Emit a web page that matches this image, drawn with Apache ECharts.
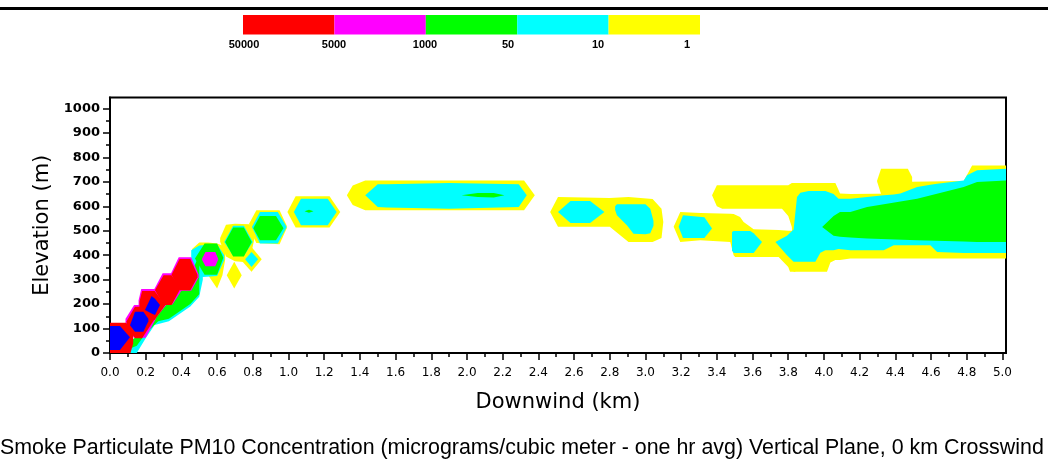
<!DOCTYPE html>
<html>
<head>
<meta charset="utf-8">
<script src="https://cdn.jsdelivr.net/npm/echarts@6/dist/echarts.min.js"></script>
<style>
html,body{margin:0;padding:0;background:#fff;}
#chart{width:1048px;height:459px;}
</style>
</head>
<body>
<div id="chart"></div>
<script>
// ---- Legend (concentration classes, micrograms/m3) ----
const legendLabels = ['50000', '5000', '1000', '50', '10', '1'];
const legendColors = ['#ff0000', '#ff00ff', '#00ff00', '#00ffff', '#ffff00'];

// ---- Axis ticks ----
const xTickLabels = ['0.0','0.2','0.4','0.6','0.8','1.0','1.2','1.4','1.6','1.8','2.0','2.2','2.4','2.6','2.8','3.0','3.2','3.4','3.6','3.8','4.0','4.2','4.4','4.6','4.8','5.0'];
const xMinorTicks = [0.1,0.3,0.5,0.7,0.9,1.1,1.3,1.5,1.7,1.9,2.1,2.3,2.5,2.7,2.9,3.1,3.3,3.5,3.7,3.9,4.1,4.3,4.5,4.7,4.9];
const yTickLabels = ['0','100','200','300','400','500','600','700','800','900','1000'];
const yMinorTicks = [50,150,250,350,450,550,650,750,850,950];

// ---- Contour regions: each is a list of [downwind km, lower elevation m, upper elevation m] ----
const yellowRegions = [
  [[0.46,415,425],[0.50,330,452],[0.55,318,452],[0.60,264,448],[0.63,318,440],[0.645,380,420]],
  [[0.654,318,318],[0.696,264,373],[0.738,318,318]],
  [[0.617,455,470],[0.65,395,525],[0.70,375,529],[0.78,370,527],[0.81,470,490]],
  [[0.73,383,383],[0.793,332,434],[0.85,383,383]],
  [[0.78,510,530],[0.82,450,584],[0.95,445,584],[0.99,510,520]],
  [[0.994,577,577],[1.04,513,641],[1.23,513,641],[1.29,577,577]],
  [[1.327,645,645],[1.36,605,685],[1.43,584,706],[2.32,584,706],[2.38,645,645]],
  [[2.466,577,577],[2.51,516,638],[2.80,516,634],[2.905,454,638],[3.04,454,630],[3.09,470,590],[3.10,536,536]],
  [[3.158,516,516],[3.195,454,577],[3.307,461,573],[3.475,454,570],[3.494,400,569],[3.503,393,565],[3.53,393,556],[3.55,393,536],[3.587,393,516],[3.606,393,506],[3.746,393,503],[3.80,352,500],[3.81,332,500],[3.84,332,500]],
  [[3.373,645,645],[3.40,600,686],[3.43,590,686],[3.765,590,686],[3.80,560,686],[3.82,515,695],[3.83,332,695],[4.017,332,695],[4.036,370,695],[4.064,380,695],[4.08,380,670],[4.09,380,652],[4.148,386,650],[4.42,386,652],[4.49,386,700],[4.783,386,703],[4.83,386,767],[5.03,386,767]],
  [[4.298,700,706],[4.32,650,754],[4.47,650,754],[4.494,700,720]]
];
const cyanRegions = [
  [[0.11,0,20],[0.15,0,60],[0.2,60,130],[0.25,115,170],[0.33,130,230],[0.45,190,320],[0.5,230,400],[0.52,300,420]],
  [[0.455,306,420],[0.5,310,440],[0.6,315,445],[0.64,380,400]],
  [[0.64,454,454],[0.69,398,520],[0.75,398,520],[0.80,454,454]],
  [[0.757,383,383],[0.793,352,413],[0.83,383,383]],
  [[0.795,515,515],[0.84,448,577],[0.94,448,577],[0.99,515,515]],
  [[1.03,577,577],[1.07,522,631],[1.22,522,631],[1.27,577,577]],
  [[1.43,645,645],[1.5,597,690],[1.55,595,690],[1.9,590,695],[2.29,597,690],[2.335,645,645]],
  [[2.51,577,577],[2.58,532,622],[2.69,532,622],[2.77,577,577]],
  [[2.83,585,600],[2.84,563,608],[2.896,522,608],[2.933,488,608],[3.0,486,608],[3.027,490,590],[3.045,520,540]],
  [[3.186,516,516],[3.21,470,563],[3.33,470,555],[3.373,509,509]],
  [[3.485,420,495],[3.494,409,499],[3.587,409,499],[3.606,409,490],[3.653,454,454]],
  [[3.728,454,454],[3.793,400,480],[3.83,373,505],[3.849,373,638],[3.868,373,655],[3.914,373,663],[3.952,373,663],[3.98,410,663],[4.008,420,663],[4.054,420,650],[4.082,425,631],[4.148,420,631],[4.335,420,645],[4.391,441,648],[4.428,441,652],[4.522,441,679],[4.596,441,688],[4.634,413,692],[4.783,409,706],[4.802,409,727],[4.858,409,747],[5.03,409,754]]
];
const greenRegions = [
  [[0.12,20,50],[0.15,30,70],[0.2,80,130],[0.27,130,180],[0.33,140,230],[0.45,200,320],[0.5,240,400]],
  [[0.476,386,386],[0.53,320,448],[0.6,320,448],[0.635,390,390]],
  [[0.645,454,454],[0.69,395,513],[0.75,395,513],[0.794,454,454]],
  [[0.803,510,510],[0.84,461,560],[0.93,461,560],[0.972,510,510]],
  [[1.09,580,580],[1.115,574,586],[1.14,580,580]],
  [[1.97,645,645],[2.06,638,654],[2.15,636,654],[2.21,645,645]],
  [[3.99,515,515],[4.054,480,560],[4.09,475,577],[4.148,472,577],[4.242,468,597],[4.522,461,631],[4.783,456,679],[4.858,454,699],[5.03,454,706]]
];
const magentaRegions = [
  [[0.087,105,140],[0.135,62,196],[0.2,62,196],[0.258,141,141]],
  [[0.16,190,215],[0.175,150,262],[0.25,137,262],[0.315,196,196]],
  [[0.245,257,257],[0.295,198,326],[0.35,198,326],[0.40,255,275]],
  [[0.338,320,320],[0.385,255,392],[0.455,255,392],[0.497,310,320]],
  [[0.514,383,383],[0.535,355,413],[0.59,355,413],[0.607,383,383]]
];
const redRegions = [
  [[0,0,124],[0.09,0,124],[0.115,0,100],[0.13,40,80]],
  [[0.093,110,130],[0.14,60,189],[0.18,60,189],[0.252,141,141]],
  [[0.165,190,210],[0.18,150,254],[0.25,135,254],[0.31,196,196]],
  [[0.252,257,257],[0.30,196,318],[0.345,196,318],[0.392,260,270]],
  [[0.345,320,320],[0.39,257,384],[0.45,257,384],[0.49,310,320]]
];
const blueRegions = [
  [[0,12,110],[0.056,12,110],[0.112,64,64]],
  [[0.112,114,114],[0.14,87,169],[0.187,87,169],[0.215,130,140]],
  [[0.196,176,176],[0.233,162,233],[0.252,155,222],[0.28,196,196]]
];

const levels = [
  {name: '1', color: '#ffff00', regions: yellowRegions},
  {name: '10', color: '#00ffff', regions: cyanRegions},
  {name: '50', color: '#00ff00', regions: greenRegions},
  {name: '1000', color: '#ff00ff', regions: magentaRegions},
  {name: '5000', color: '#ff0000', regions: redRegions},
  {name: '50000', color: '#0000ff', regions: blueRegions}
];

const chart = echarts.init(document.getElementById('chart'), null, {renderer: 'canvas'});

function makeSeries(level) {
  return {
    type: 'custom',
    name: level.name,
    silent: true,
    animation: false,
    xAxisIndex: 0,
    yAxisIndex: 0,
    data: level.regions.map((r, i) => [r[0][0], r[0][1], i]),
    encode: {x: 0, y: 1},
    renderItem: function (params, api) {
      const region = level.regions[api.value(2)];
      const upper = region.map(p => api.coord([p[0], p[2]]));
      const lower = region.slice().reverse().map(p => api.coord([p[0], p[1]]));
      const cs = params.coordSys;
      return {
        type: 'polygon',
        shape: {points: upper.concat(lower)},
        style: {fill: level.color, stroke: null},
        clipPath: {type: 'rect', shape: {x: cs.x, y: cs.y, width: cs.width, height: cs.height}}
      };
    }
  };
}

// Legend bar graphics built from the legend arrays
const barLeft = 243, barTop = 15, segW = 91.4, segH = 19.5;
const legendLabelX = [244, 334, 425, 508, 598, 687];
const graphics = [
  {type: 'line', shape: {x1: 0, y1: 8.5, x2: 1048, y2: 8.5}, style: {stroke: '#000', lineWidth: 3}}
];
legendColors.forEach((c, i) => {
  graphics.push({type: 'rect', shape: {x: barLeft + i * segW, y: barTop, width: segW, height: segH}, style: {fill: c}});
});
legendLabels.forEach((t, i) => {
  graphics.push({type: 'text', x: legendLabelX[i], y: 45, style: {text: t, fill: '#000', font: 'bold 11px "Liberation Sans"', align: 'center', verticalAlign: 'middle'}});
});
graphics.push({type: 'text', x: 0, y: 448, style: {text: 'Smoke Particulate PM10 Concentration (micrograms/cubic meter - one hr avg) Vertical Plane, 0 km Crosswind', fill: '#000', font: '21.4px "Liberation Sans"', align: 'left', verticalAlign: 'middle'}});

const xMajor = xTickLabels.map(Number);
const yMajor = yTickLabels.map(Number);

const option = {
  backgroundColor: '#fff',
  animation: false,
  grid: {left: 110, top: 97.5, right: 42, bottom: 106, show: true, borderColor: '#000', borderWidth: 2, backgroundColor: 'transparent'},
  xAxis: [
    {
      type: 'value', min: 0, max: 5.02, position: 'bottom',
      name: 'Downwind (km)', nameLocation: 'middle', nameGap: 39,
      nameTextStyle: {fontFamily: 'DejaVu Sans', fontSize: 21, color: '#000'},
      axisLine: {show: true, onZero: false, lineStyle: {color: '#000', width: 2}},
      axisTick: {show: true, length: 7, customValues: xMajor, lineStyle: {color: '#000', width: 1.5}},
      axisLabel: {customValues: xMajor, margin: 14, color: '#000', fontFamily: 'DejaVu Sans', fontSize: 12, formatter: v => v.toFixed(1)},
      splitLine: {show: false}
    },
    {
      type: 'value', min: 0, max: 5.02, position: 'bottom', offset: 0,
      axisLine: {show: false},
      axisTick: {show: true, length: 4, customValues: xMinorTicks, lineStyle: {color: '#000', width: 1.5}},
      axisLabel: {show: false},
      splitLine: {show: false}
    }
  ],
  yAxis: [
    {
      type: 'value', min: 0, max: 1045, position: 'left',
      name: 'Elevation (m)', nameLocation: 'middle', nameGap: 57, nameRotate: 90,
      nameTextStyle: {fontFamily: 'DejaVu Sans', fontSize: 21, color: '#000'},
      axisLine: {show: true, onZero: false, lineStyle: {color: '#000', width: 2}},
      axisTick: {show: true, length: 7, customValues: yMajor, lineStyle: {color: '#000', width: 1.5}},
      axisLabel: {customValues: yMajor, margin: 10, color: '#000', fontFamily: 'DejaVu Sans', fontWeight: 'bold', fontSize: 13, formatter: v => String(v)},
      splitLine: {show: false}
    },
    {
      type: 'value', min: 0, max: 1045, position: 'left', offset: 0,
      axisLine: {show: false},
      axisTick: {show: true, length: 4, customValues: yMinorTicks, lineStyle: {color: '#000', width: 1.5}},
      axisLabel: {show: false},
      splitLine: {show: false}
    }
  ],
  series: levels.map(makeSeries),
  graphic: graphics
};
chart.setOption(option);
</script>
</body>
</html>
